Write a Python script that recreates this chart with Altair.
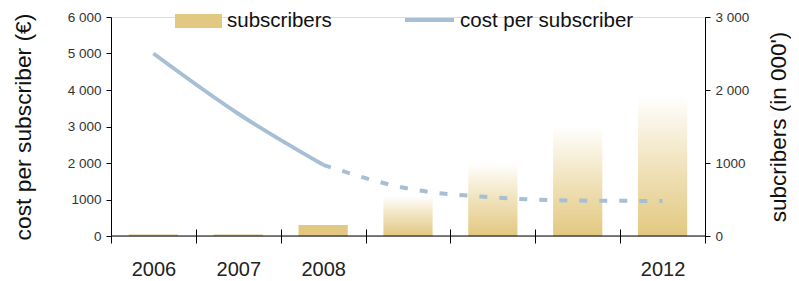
import altair as alt
import pandas as pd

years = ["2006", "2007", "2008", "2009", "2010", "2011", "2012"]
subscribers = [20, 20, 150, 550, 1000, 1500, 1920]
solid_bar_years = ["2006", "2007", "2008"]
cost_years_solid = ["2006", "2007", "2008"]
cost_solid = [5000, 3350, 1950]
cost_years_dashed = ["2008", "2009", "2010", "2011", "2012"]
cost_dashed = [1950, 1300, 1060, 970, 960]
shown_years = ["2006", "2007", "2008", "2012"]
left_ticks = [0, 1000, 2000, 3000, 4000, 5000, 6000]
right_ticks = [0, 1000, 2000, 3000]

GOLD = "#e2c880"
BLUE = "#a7bfd4"
FONT = "Liberation Sans"
W, H = 594, 219

bars_df = pd.DataFrame({"year": years, "subs": subscribers})
bars_solid_df = bars_df[bars_df["year"].isin(solid_bar_years)]
bars_grad_df = bars_df[~bars_df["year"].isin(solid_bar_years)]
solid_df = pd.DataFrame({"year": cost_years_solid, "cost": cost_solid})
dashed_df = pd.DataFrame({"year": cost_years_dashed, "cost": cost_dashed})

num_expr = "datum.value == 1000 ? '1000' : replace(format(datum.value, ','), ',', ' ')"
shown = "[" + ",".join("'%s'" % y for y in shown_years) + "]"

xscale = alt.Scale(domain=years, paddingInner=0, paddingOuter=0)
xaxis = alt.Axis(
    title=None, tickBand="extent", labelAngle=0,
    labelExpr="indexof(%s, datum.value) >= 0 ? datum.value : ''" % shown,
    labelFontSize=20, labelColor="#222", labelFont=FONT,
    tickSize=14, offset=-7, domain=False, tickColor="#000", labelPadding=16,
)

right_axis = alt.Axis(
    orient="right", title="subcribers (in 000')", titleFont=FONT, titleFontSize=22.5,
    titleFontWeight="normal", titleColor="#111", titleAngle=270, titlePadding=42,
    labelFont=FONT, labelFontSize=13.5, labelColor="#333", labelExpr=num_expr,
    values=right_ticks, tickSize=5, labelPadding=5, domainColor="#000",
    tickColor="#000", grid=False,
)
left_axis = alt.Axis(
    orient="left", title="cost per subscriber (€)", titleFont=FONT, titleFontSize=22.8,
    titleFontWeight="normal", titleColor="#111", titlePadding=32,
    labelFont=FONT, labelFontSize=13.5, labelColor="#333", labelExpr=num_expr,
    values=left_ticks, tickSize=5, labelPadding=5, domainColor="#000",
    tickColor="#000", grid=False,
)

yr = alt.Scale(domain=[0, 3000], nice=False)
yl = alt.Scale(domain=[0, 6000], nice=False)

gradient = alt.Gradient(
    gradient="linear",
    stops=[alt.GradientStop(color="#ffffff", offset=0),
           alt.GradientStop(color="#f0e2bb", offset=0.5),
           alt.GradientStop(color=GOLD, offset=1)],
    x1=1, x2=1, y1=0, y2=1,
)

bw = alt.RelativeBandSize(0.58)
b1 = alt.Chart(bars_solid_df).mark_bar(color=GOLD, width=bw).encode(
    x=alt.X("year:N", scale=xscale, axis=xaxis, sort=years),
    y=alt.Y("subs:Q", scale=yr, axis=right_axis),
)
b2 = alt.Chart(bars_grad_df).mark_bar(color=gradient, width=bw).encode(
    x=alt.X("year:N", scale=xscale, axis=xaxis, sort=years),
    y=alt.Y("subs:Q", scale=yr, axis=right_axis),
)
bars = alt.layer(b1, b2)

l1 = alt.Chart(solid_df).mark_line(color=BLUE, strokeWidth=4, interpolate="monotone").encode(
    x=alt.X("year:N", scale=xscale, axis=xaxis, sort=years),
    y=alt.Y("cost:Q", scale=yl, axis=left_axis),
)
l2 = alt.Chart(dashed_df).mark_line(color=BLUE, strokeWidth=4, strokeDash=[8, 12],
                                    interpolate="monotone").encode(
    x=alt.X("year:N", scale=xscale, axis=xaxis, sort=years),
    y=alt.Y("cost:Q", scale=yl, axis=left_axis),
)
base_rule = alt.Chart(pd.DataFrame({"c": [0]})).mark_rule(color="#000", strokeWidth=1).encode(
    y=alt.Y("c:Q", scale=yl, axis=left_axis), x=alt.value(0), x2=alt.value(W),
)
lines = alt.layer(l1, l2, base_rule)

leg_df = pd.DataFrame({"t": ["x"]})
leg_rect = alt.Chart(leg_df).mark_rect(color=GOLD).encode(
    x=alt.value(64), x2=alt.value(111), y=alt.value(-3), y2=alt.value(11))
leg_line = alt.Chart(leg_df).mark_rule(color=BLUE, strokeWidth=4).encode(
    x=alt.value(294), x2=alt.value(343), y=alt.value(3))
leg_t1 = alt.Chart(pd.DataFrame({"t": ["subscribers"]})).mark_text(
    font=FONT, fontSize=20.5, color="#111", align="left", baseline="middle").encode(
    text="t:N", x=alt.value(116), y=alt.value(4))
leg_t2 = alt.Chart(pd.DataFrame({"t": ["cost per subscriber"]})).mark_text(
    font=FONT, fontSize=20.5, color="#111", align="left", baseline="middle").encode(
    text="t:N", x=alt.value(349), y=alt.value(4))

chart = alt.layer(bars, lines, leg_rect, leg_line, leg_t1, leg_t2).resolve_scale(
    y="independent"
).properties(
    width=W, height=H,
    autosize=alt.AutoSizeParams(type="none"),
    padding={"left": 103, "top": 9, "right": 86, "bottom": 44},
).configure_view(stroke=None).configure(background="white")

chart.save("out.html", embed_options={"renderer": "svg", "actions": False})
